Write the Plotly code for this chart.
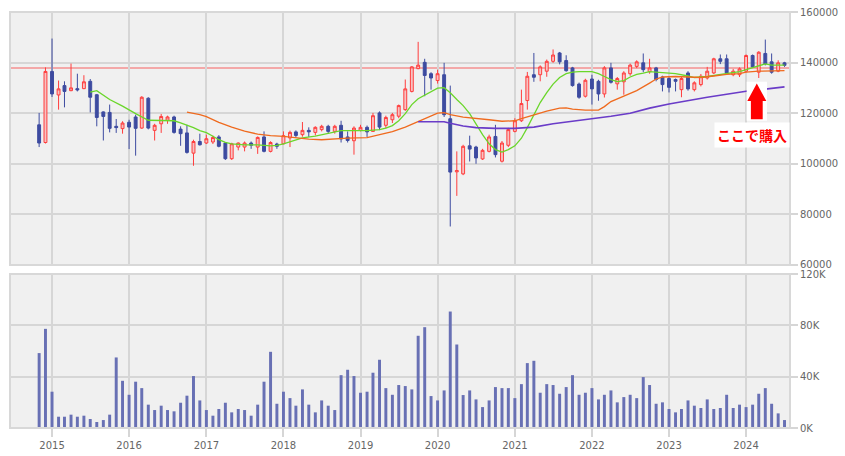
import plotly.graph_objects as go
import pandas as pd

# ---------------- data ----------------
months = pd.date_range("2014-11-01", "2024-07-01", freq="MS")

open_ = [115400, 108400,
         136500, 127200, 130900, 128900, 129700, 129700, 132600, 127300, 120500, 120300, 114800, 113900,
         116400, 118500, 114100, 125900, 113200, 115800, 117200, 118500, 113700, 112200, 104200, 108800,
         108200, 108600, 110600, 108200, 102000, 106600, 106600, 108200, 106600, 110600, 104900, 107800,
         107900, 110200, 112600, 111500, 113200, 112400, 113500, 114800, 112800, 115200, 110600, 109100,
         113200, 114400, 112800, 120100, 115200, 117400, 118800, 121400, 128600, 137600, 140100, 135600,
         132900, 135200, 117800, 96800, 96000, 107100, 106600, 101900, 104900, 110800, 101000, 107300,
         112800, 117000, 125000, 135200, 135200, 136600, 140500, 143800, 140800, 137900, 131500, 126700,
         133500, 132600, 127600, 137900, 131600, 132400, 135600, 138500, 139900, 136400, 137900, 134300,
         133700, 133300, 129300, 135900, 129300, 131300, 133900, 135900, 141500, 141500, 135200, 135200,
         136600, 142800, 136200, 143600, 140300, 136600, 139900]
high = [120100, 138100,
        149500, 132900, 132600, 139600, 135600, 135000, 133500, 127600, 120700, 123400, 117700, 116800,
        117400, 119400, 126700, 126300, 115800, 119700, 119000, 119000, 114800, 115400, 109500, 111900,
        111500, 111100, 111300, 108600, 108300, 108400, 108800, 108800, 110800, 112800, 108900, 108300,
        112800, 113100, 113200, 116500, 114400, 114800, 115400, 115400, 115400, 117000, 112800, 114800,
        115400, 115100, 120100, 120700, 119000, 120100, 123400, 133300, 138600, 148200, 141500, 136200,
        137200, 139900, 130900, 104900, 107500, 111100, 107100, 105900, 111500, 115400, 109000, 114200,
        118000, 129300, 136300, 143800, 138900, 141200, 145200, 144200, 142900, 138300, 132100, 133600,
        135200, 133200, 138600, 139900, 134300, 136600, 139600, 140900, 143600, 141500, 138300, 134800,
        134300, 133700, 134300, 136600, 132600, 135500, 138300, 141900, 143200, 143200, 137500, 138100,
        143200, 143200, 144500, 149100, 143600, 140900, 140300]
low = [106600, 108000,
       126400, 121400, 122300, 128700, 128600, 129500, 120300, 114800, 109200, 112400, 112200, 111900,
       105800, 103200, 113800, 113600, 109200, 112200, 115800, 111900, 107100, 104000, 99200, 107200,
       107800, 107800, 106500, 101500, 101500, 105300, 104900, 105900, 103900, 104500, 104500, 105900,
       107700, 106600, 110400, 110700, 110600, 111200, 112800, 111900, 111900, 108400, 108400, 103600,
       112800, 110600, 112600, 113300, 114100, 116100, 118000, 120900, 128200, 137400, 126700, 129300,
       131700, 118500, 75200, 87300, 95500, 100900, 100000, 101500, 104500, 102500, 100500, 106600,
       112400, 116500, 121400, 132400, 132600, 134400, 139900, 139300, 136400, 130500, 125700, 126200,
       123400, 124900, 126200, 131700, 129300, 127300, 134800, 137800, 136200, 135600, 132600, 128600,
       128200, 128600, 126300, 128900, 128600, 130600, 133300, 135500, 139400, 135500, 134600, 134300,
       136100, 137900, 133900, 138900, 135600, 136200, 138300]
close = [108200, 136500,
         127600, 129600, 128600, 130000, 129200, 132400, 126300, 118300, 118700, 114000, 114300, 116100,
         114500, 114000, 126300, 114100, 115200, 118700, 118500, 112400, 111900, 104500, 108800, 107500,
         109900, 110400, 106900, 102000, 107900, 108200, 108200, 107300, 110400, 104900, 108400, 106900,
         111100, 112400, 111200, 113200, 112600, 114400, 114800, 112800, 114800, 109800, 109200, 114100,
         114400, 112600, 119000, 114500, 118300, 119400, 123000, 129600, 138300, 139000, 134900, 133900,
         135600, 119400, 96700, 97300, 106900, 105800, 102300, 105300, 110600, 103600, 108200, 113500,
         117000, 123800, 134600, 134200, 138300, 140500, 143000, 140300, 136800, 130900, 126300, 133000,
         129600, 127600, 137900, 132200, 133700, 135900, 139000, 140300, 137200, 137900, 133300, 131300,
         130200, 132600, 133700, 129600, 132000, 134600, 136600, 141500, 140500, 135900, 136600, 137500,
         142800, 138300, 144100, 139500, 136200, 139900, 138900]

volume_k = [58.4, 77.3,
            28.3, 8.8, 8.8, 10.4, 8.8, 9.6, 7.0, 4.7, 6.2, 10.4, 55.0, 36.8,
            25.9, 36.1, 31.1, 18.2, 14.0, 17.4, 14.0, 13.0, 19.7, 25.2, 40.5, 21.5,
            14.0, 9.6, 14.8, 19.7, 12.2, 14.8, 14.0, 9.6, 18.2, 36.1, 59.4, 18.9,
            28.3, 23.3, 17.4, 30.1, 18.2, 12.2, 21.5, 17.4, 14.0, 41.2, 45.4, 40.5,
            27.5, 28.3, 43.1, 53.2, 31.1, 25.9, 33.5, 32.7, 30.1, 71.9, 78.6, 24.9,
            21.5, 29.3, 90.8, 65.1, 25.7, 29.3, 22.3, 16.3, 21.5, 31.9, 31.1, 31.1,
            23.3, 34.2, 50.6, 52.4, 27.5, 34.2, 33.5, 26.7, 31.9, 41.2, 25.9, 27.5,
            31.1, 22.3, 25.9, 29.3, 20.0, 24.1, 25.9, 23.3, 39.7, 33.5, 18.9, 20.0,
            14.8, 12.2, 14.8, 21.5, 17.4, 15.6, 22.3, 14.8, 15.6, 25.9, 15.6, 18.2,
            16.3, 18.2, 26.7, 31.1, 18.9, 11.4, 6.2]

# moving averages
ma_short_dates = ["2015-07", "2015-08", "2015-10", "2015-11", "2015-12", "2016-02", "2016-03", "2016-04",
                  "2016-06", "2016-08", "2016-09", "2016-10", "2016-11", "2016-12", "2017-01", "2017-02",
                  "2017-03", "2017-04", "2017-05", "2017-07", "2017-09", "2017-11", "2017-12", "2018-01",
                  "2018-02", "2018-03", "2018-04", "2018-06", "2018-08", "2018-10", "2018-12", "2019-02",
                  "2019-04", "2019-05", "2019-06", "2019-07", "2019-08", "2019-09", "2019-10", "2019-11",
                  "2019-12", "2020-01", "2020-02", "2020-03", "2020-04", "2020-05", "2020-06", "2020-07",
                  "2020-08", "2020-09", "2020-10", "2020-11", "2020-12", "2021-01", "2021-02", "2021-03",
                  "2021-04", "2021-05", "2021-06", "2021-07", "2021-08", "2021-09", "2021-10", "2021-11",
                  "2022-01", "2022-02", "2022-03", "2022-04", "2022-05", "2022-06", "2022-07", "2022-08",
                  "2022-09", "2022-10", "2022-12", "2023-02", "2023-04", "2023-05", "2023-07", "2023-09",
                  "2023-11", "2023-12", "2024-01", "2024-02", "2024-03", "2024-04", "2024-05", "2024-07"]
ma_short_vals = [128300, 128900, 125400, 124200, 122800, 119800, 118500, 117200,
                 117100, 117000, 116200, 115300, 114300, 113100, 112300, 110900,
                 109500, 108500, 107900, 107500, 107500, 107100, 107300, 107900,
                 108700, 109500, 110200, 110900, 112100, 113100, 113100, 113100,
                 113500, 114100, 115100, 117000, 119800, 123400, 125700, 127100,
                 128500, 129900, 130100, 128100, 125400, 123000, 119800, 115500,
                 111500, 107900, 105600, 104600, 105600, 107100, 110100, 114300,
                 119400, 124200, 128100, 131500, 134100, 135600, 136200, 136400,
                 136400, 135600, 134500, 133300, 132500, 132900, 134300, 135300,
                 135800, 136400, 136000, 135600, 134700, 134100, 134500, 135300,
                 135800, 136400, 137200, 137900, 138800, 139500, 139000, 139000]

ma_mid_dates = ["2016-10", "2016-11", "2016-12", "2017-01", "2017-02", "2017-03", "2017-05", "2017-07",
                "2017-09", "2017-11", "2018-01", "2018-03", "2018-05", "2018-07", "2018-09", "2018-11",
                "2019-02", "2019-04", "2019-06", "2019-08", "2019-10", "2019-11", "2019-12", "2020-01",
                "2020-02", "2020-03", "2020-05", "2020-07", "2020-09", "2020-11", "2020-12", "2021-01",
                "2021-02", "2021-04", "2021-06", "2021-08", "2021-09", "2021-10", "2021-12", "2022-02",
                "2022-03", "2022-04", "2022-06", "2022-08", "2022-10", "2022-11", "2022-12", "2023-02",
                "2023-04", "2023-06", "2023-08", "2023-10", "2023-12", "2024-01", "2024-03", "2024-07"]
ma_mid_vals = [120400, 120000, 119400, 118600, 117400, 116400, 114500, 112900,
               111700, 111100, 110800, 110300, 109700, 109500, 109900, 110100,
               110300, 111500, 112700, 114500, 116800, 118000, 119000, 120000,
               120200, 119400, 118400, 118000, 117400, 116800, 116800, 117000,
               117800, 119400, 120800, 122000, 122100, 121600, 121200, 121200,
               122600, 124600, 126700, 128900, 131900, 133500, 134300, 134500,
               134300, 134100, 134700, 135300, 135600, 136200, 136600, 136800]

ma_long_dates = ["2019-10", "2020-02", "2020-03", "2020-05", "2020-07", "2020-10", "2021-01", "2021-04",
                 "2021-07", "2021-10", "2022-01", "2022-04", "2022-07", "2022-10", "2023-01", "2023-04",
                 "2023-07", "2023-10", "2024-01", "2024-04", "2024-07"]
ma_long_vals = [116600, 116600, 116000, 114900, 114300, 114000, 114000, 114500,
                115800, 116800, 117600, 118800, 120000, 122000, 123600, 125000,
                126300, 127500, 128700, 129500, 130400]

purchase_line = 137900
year_ticks = [f"{y}-01-01" for y in range(2015, 2025)]
year_labels = [str(y) for y in range(2015, 2025)]
price_ticks = [60000, 80000, 100000, 120000, 140000, 160000]
vol_ticks = [0, 40, 80, 120]
vol_labels = ["0K", "40K", "80K", "120K"]
note_text = "ここで購入"

# ---------------- figure ----------------
GRID = "#d6d6d6"
TICKFONT = dict(family="DejaVu Sans", size=10, color="#666666")

fig = go.Figure()

fig.add_trace(go.Candlestick(
    x=months, open=open_, high=high, low=low, close=close,
    increasing=dict(line=dict(color="#ff3d3d", width=1), fillcolor="#f7c2c2"),
    decreasing=dict(line=dict(color="#3d4ba0", width=1), fillcolor="#3d4ba0"),
    whiskerwidth=0, xaxis="x", yaxis="y", showlegend=False, hoverinfo="skip"))

fig.add_trace(go.Scatter(x=[d + "-01" for d in ma_short_dates], y=ma_short_vals, mode="lines",
                         line=dict(color="#6ad62a", width=1.3), xaxis="x", yaxis="y", showlegend=False))
fig.add_trace(go.Scatter(x=[d + "-01" for d in ma_mid_dates], y=ma_mid_vals, mode="lines",
                         line=dict(color="#ef6a1e", width=1.3), xaxis="x", yaxis="y", showlegend=False))
fig.add_trace(go.Scatter(x=[d + "-01" for d in ma_long_dates], y=ma_long_vals, mode="lines",
                         line=dict(color="#6a3cc8", width=1.6), xaxis="x", yaxis="y", showlegend=False))

fig.add_trace(go.Bar(x=months, y=volume_k, marker=dict(color="#6870b4", line=dict(width=0)),
                     width=14 * 86400000, xaxis="x2", yaxis="y2", showlegend=False))

x_range = ["2014-06-16", "2024-07-27"]

common_x = dict(type="date", range=x_range, tickvals=year_ticks, showgrid=True, gridcolor=GRID,
                gridwidth=1.5, zeroline=False, showline=False, automargin=False)
fig.update_layout(
    width=845, height=456,
    margin=dict(l=10, r=55, t=12, b=28, autoexpand=False),
    paper_bgcolor="white", plot_bgcolor="#f0f0f0",
    xaxis=dict(**common_x, domain=[0, 1], anchor="y", showticklabels=False, ticks="",
               rangeslider=dict(visible=False)),
    yaxis=dict(domain=[0.392, 1], range=[60000, 160000], side="right", tickvals=price_ticks,
               ticktext=[str(v) for v in price_ticks], ticks="outside", ticklen=7, tickcolor=GRID,
               tickwidth=1.5, showgrid=True, gridcolor=GRID, gridwidth=1.5, zeroline=False,
               tickfont=TICKFONT, anchor="x", automargin=False),
    xaxis2=dict(**common_x, domain=[0, 1], anchor="y2", matches="x", ticktext=year_labels,
                ticks="outside", ticklen=8, tickcolor=GRID, tickwidth=1.5, tickfont=TICKFONT,
                rangeslider=dict(visible=False)),
    yaxis2=dict(domain=[0, 0.370], range=[0, 120], side="right", tickvals=vol_ticks, ticktext=vol_labels,
                ticks="outside", ticklen=7, tickcolor=GRID, tickwidth=1.5, showgrid=True, gridcolor=GRID,
                gridwidth=1.5, zeroline=False, tickfont=TICKFONT, anchor="x2", automargin=False),
    showlegend=False,
)

# purchase reference line
fig.add_shape(type="line", xref="x domain", x0=0, x1=1, yref="y", y0=purchase_line, y1=purchase_line,
              line=dict(color="rgba(245,120,120,0.6)", width=2), layer="below")

# panel borders
for xr, yr in (("x domain", "y domain"), ("x2 domain", "y2 domain")):
    fig.add_shape(type="rect", xref=xr, yref=yr, x0=0, x1=1, y0=0, y1=1,
                  line=dict(color="#d8d8d8", width=2), fillcolor="rgba(0,0,0,0)", layer="above")

# arrow (paper coordinates)
def px(v):
    return (v - 10) / 780.0

def py(v):
    return (428 - v) / 416.0

fig.add_shape(type="rect", xref="paper", yref="paper", x0=px(746.7), x1=px(767.0), y0=py(120.7), y1=py(81.7),
              fillcolor="white", line=dict(width=0), layer="above")
arrow_path = (f"M {px(756.8)},{py(83.5)} L {px(766.3)},{py(101)} L {px(762.7)},{py(101)} "
              f"L {px(762.7)},{py(119.3)} L {px(750.9)},{py(119.3)} L {px(750.9)},{py(101)} "
              f"L {px(747.3)},{py(101)} Z")
fig.add_shape(type="path", xref="paper", yref="paper", path=arrow_path,
              fillcolor="#ff0000", line=dict(width=0), layer="above")

fig.add_annotation(x=px(752.4), y=py(135), xref="paper", yref="paper", text=note_text, showarrow=False,
                   font=dict(family="Noto Sans CJK JP", size=14, color="#ff0000", weight="bold"),
                   bgcolor="white", borderpad=2, xanchor="center", yanchor="middle")

fig.write_html("out.html")
